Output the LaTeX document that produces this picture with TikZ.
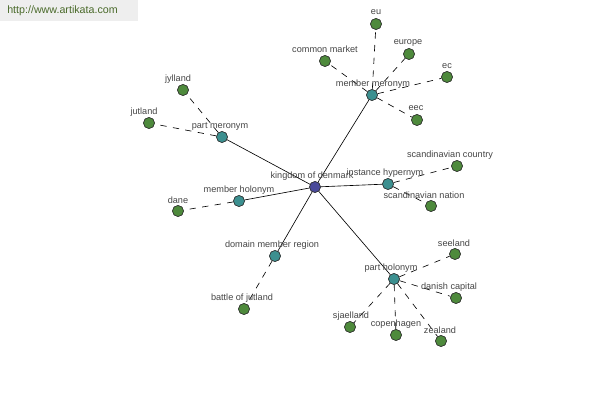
\documentclass[tikz,border=0pt]{standalone}
\usepackage{fontspec}
\setmainfont{Liberation Sans}
\definecolor{leaf}{HTML}{4E8A3C}
\definecolor{rel}{HTML}{3C9090}
\definecolor{hub}{HTML}{4A4A9A}
\definecolor{lbl}{HTML}{454545}
\definecolor{banner}{HTML}{EEEEEE}
\definecolor{bannertext}{HTML}{4A6A2A}
\begin{document}
\begin{tikzpicture}[x=0.025cm,y=-0.025cm,
  dot/.style={circle,draw=black!80,line width=0.4pt,inner sep=0pt,minimum size=11*0.025cm},
  leafdot/.style={dot,fill=leaf},
  reldot/.style={dot,fill=rel},
  hubdot/.style={dot,fill=hub},
  lab/.style={font=\fontsize{6.5}{7}\selectfont,text=lbl,inner sep=0pt},
  solidedge/.style={draw=black,line width=0.45pt},
  dashedge/.style={draw=black,line width=0.45pt,dash pattern=on 4.5pt off 4.5pt}]
\useasboundingbox (0,0) rectangle (600,400);
\fill[white] (0,0) rectangle (600,400);
\fill[banner] (0,0) rectangle (138,21);
\node[font=\fontsize{7.6}{8}\selectfont,text=bannertext,anchor=west,inner sep=0pt] (url) at (7,11) {http://www.artikata.com};
% hub and relation nodes
\node[hubdot] (K) at (315,187) {};
\node[reldot] (MM) at (372,95) {};
\node[reldot] (PM) at (222,137) {};
\node[reldot] (MH) at (239,201) {};
\node[reldot] (IH) at (388,184) {};
\node[reldot] (DM) at (275,256) {};
\node[reldot] (PH) at (394,279) {};
% leaf nodes
\node[leafdot] (eu) at (376,24) {};
\node[leafdot] (europe) at (409,54) {};
\node[leafdot] (cm) at (325,61) {};
\node[leafdot] (ec) at (447,77) {};
\node[leafdot] (eec) at (417,120) {};
\node[leafdot] (jylland) at (183,90) {};
\node[leafdot] (jutland) at (149,123) {};
\node[leafdot] (dane) at (178,211) {};
\node[leafdot] (sc) at (457,166) {};
\node[leafdot] (sn) at (431,206) {};
\node[leafdot] (boj) at (244,309) {};
\node[leafdot] (seeland) at (455,254) {};
\node[leafdot] (dc) at (456,298) {};
\node[leafdot] (sja) at (350,327) {};
\node[leafdot] (cop) at (396,335) {};
\node[leafdot] (zea) at (441,341) {};
% edges
\path[solidedge] (K) -- (MM) (K) -- (PM) (K) -- (MH) (K) -- (IH) (K) -- (DM) (K) -- (PH);
\path[dashedge] (MM) -- (eu) (MM) -- (europe) (MM) -- (cm) (MM) -- (ec) (MM) -- (eec);
\path[dashedge] (PM) -- (jylland) (PM) -- (jutland);
\path[dashedge] (MH) -- (dane);
\path[dashedge] (IH) -- (sc) (IH) -- (sn);
\path[dashedge] (DM) -- (boj);
\path[dashedge] (PH) -- (seeland) (PH) -- (dc) (PH) -- (sja) (PH) -- (cop) (PH) -- (zea);
% labels
\node[lab] (lK) at (312,176) {kingdom of denmark};
\node[lab] (lMM) at (373,84) {member meronym};
\node[lab] (lPM) at (220,126) {part meronym};
\node[lab] (lMH) at (239,190) {member holonym};
\node[lab] (lIH) at (385,173) {instance hypernym};
\node[lab] (lDM) at (272,245) {domain member region};
\node[lab] (lPH) at (391,268) {part holonym};
\node[lab] (leu) at (376,12) {eu};
\node[lab] (leurope) at (408,43) {europe};
\node[lab] (lcm) at (325,49) {common market};
\node[lab] (lec) at (447,66) {ec};
\node[lab] (leec) at (416,108) {eec};
\node[lab] (ljylland) at (178,79) {jylland};
\node[lab] (ljutland) at (144,112) {jutland};
\node[lab] (ldane) at (178,200) {dane};
\node[lab] (lsc) at (450,155) {scandinavian country};
\node[lab] (lsn) at (424,195) {scandinavian nation};
\node[lab] (lboj) at (242,298) {battle of jutland};
\node[lab] (lseeland) at (454,243) {seeland};
\node[lab] (ldc) at (449,287) {danish capital};
\node[lab] (lsja) at (351,316) {sjaelland};
\node[lab] (lcop) at (396,324) {copenhagen};
\node[lab] (lzea) at (440,330) {zealand};
% redraw dots on top of edges
\foreach \n/\s in {K/hubdot,MM/reldot,PM/reldot,MH/reldot,IH/reldot,DM/reldot,PH/reldot}
  \node[\s] at (\n) {};
\foreach \n in {eu,europe,cm,ec,eec,jylland,jutland,dane,sc,sn,boj,seeland,dc,sja,cop,zea}
  \node[leafdot] at (\n) {};
\end{tikzpicture}
\end{document}
